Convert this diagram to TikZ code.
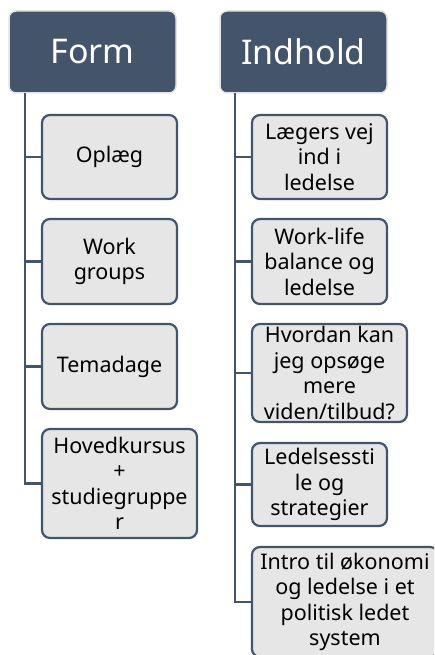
\documentclass[tikz,border=0pt]{standalone}
\usepackage{fontspec}
\setmainfont{Noto Sans}
\definecolor{hdr}{HTML}{44546A}
\definecolor{boxfill}{HTML}{E7E6E6}
\definecolor{hdrline}{HTML}{E4E4E4}
\tikzset{
  header/.style={draw=hdrline, line width=1.5pt, fill=hdr, rounded corners=7pt, minimum width=167pt, minimum height=82pt, inner sep=0pt, text=white, font=\fontsize{34}{40}\selectfont},
  child/.style={draw=hdr, line width=2.2pt, fill=boxfill, rounded corners=8pt, minimum height=84pt, inner sep=0pt, align=center, font=\fontsize{21.5}{25.5}\selectfont},
  conn/.style={draw=hdr, line width=2.4pt}
}
\begin{document}
\begin{tikzpicture}[x=1pt,y=-1pt]
\useasboundingbox (0,0) rectangle (434,655);
\clip (0,0) rectangle (434,655);
\node[header] (form) at (92.5,52) {Form};
\node[header] (indhold) at (303.5,52) {Indhold};
\coordinate (ft) at (25,93);
\coordinate (it) at (235,93);
% left column
\node[child, minimum width=135pt] (oplaeg) at (109.5,157) {Oplæg};
\node[child, minimum width=135pt, minimum height=85pt] (work) at (109.5,261.5) {Work\\groups};
\node[child, minimum width=135pt, minimum height=85pt] (tema) at (109.5,366.5) {Temadage};
\node[child, minimum width=155pt, minimum height=109pt] (hoved) at (119.5,483.5) {Hovedkursus\\+\\studiegruppe\\r};
% right column
\node[child, minimum width=135pt] (laeg) at (319.5,157) {Lægers vej\\ind i\\ledelse};
\node[child, minimum width=135pt, minimum height=85pt] (wlb) at (319.5,261.5) {Work-life\\balance og\\ledelse};
\node[child, minimum width=155pt, minimum height=98pt] (hvordan) at (329.5,373) {Hvordan kan\\jeg opsøge\\mere\\viden/tilbud?};
\node[child, minimum width=135pt, minimum height=83pt] (ledel) at (319.5,484.5) {Ledelsessti\\le og\\strategier};
\node[child, minimum width=186pt, minimum height=110pt] (intro) at (345,602) {Intro til økonomi\\og ledelse i et\\politisk ledet\\system};
% connectors
\draw[conn] (ft) |- (oplaeg.west);
\draw[conn] (ft) |- (work.west);
\draw[conn] (ft) |- (tema.west);
\draw[conn] (ft) |- (hoved.west);
\draw[conn] (it) |- (laeg.west);
\draw[conn] (it) |- (wlb.west);
\draw[conn] (it) |- (hvordan.west);
\draw[conn] (it) |- (ledel.west);
\draw[conn] (it) |- (intro.west);
\end{tikzpicture}
\end{document}
